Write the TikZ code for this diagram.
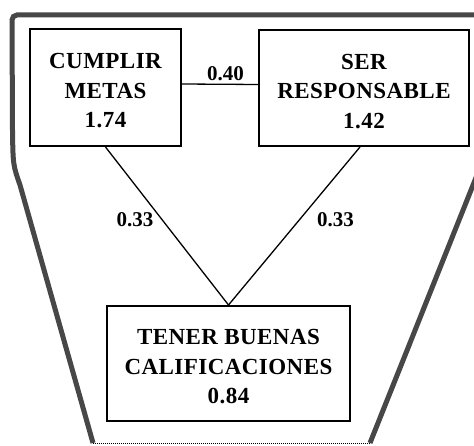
\documentclass[tikz,border=0pt]{standalone}
\usepackage{fontspec}
\setmainfont{Liberation Serif}
\newfontfamily\boxfont[LetterSpace=2]{Liberation Serif}
\usetikzlibrary{positioning}
\tikzset{
  goalbox/.style={draw, line width=2pt, align=center, inner sep=0pt, text height=81pt,
    font=\boxfont\fontsize{23}{29.5}\selectfont\bfseries},
  weight/.style={font=\fontsize{21}{21}\selectfont\bfseries, inner sep=1pt},
  link/.style={line width=1.3pt},
  frame/.style={line width=5pt, black!72},
}

\begin{document}
\begin{tikzpicture}[x=1pt, y=-1pt]
	\useasboundingbox (0,0) rectangle (474,446);
	\clip (0,0) rectangle (474,446);
	
	% outer border
	\draw[frame] (370,443) -- (541,15) -- (17,15) to[out=180,in=90] (12,20) -- (12.5,130) .. controls (13,165) .. (20,185) -- (93,443);
	\draw[line width=1pt, densely dotted] (93,443) -- (370,443);
	
	\node[goalbox, minimum width=151pt, minimum height=117pt] (cumplir) at (105.5,87.5) {CUMPLIR\\METAS\\1.74};
	\node[goalbox, minimum width=210pt, minimum height=116pt] (ser) at (364,88) {SER\\RESPONSABLE\\1.42};
	\node[goalbox, minimum width=243pt, minimum height=115pt] (tener) at (228.5,363.5) {TENER BUENAS\\CALIFICACIONES\\0.84};
	
	\draw[link] ([yshift=3.5pt]cumplir.east) -- ([yshift=3.5pt]ser.west);
	\draw[link] (cumplir.south) -- (tener.north);
	\draw[link] ([xshift=-4pt]ser.south) -- (tener.north);
	
	\node[weight] (w1) at (225.5,74) {0.40};
	\node[weight] (w2) at (135,220) {0.33};
	\node[weight] (w3) at (335.5,220) {0.33};
\end{tikzpicture}
\end{document}
